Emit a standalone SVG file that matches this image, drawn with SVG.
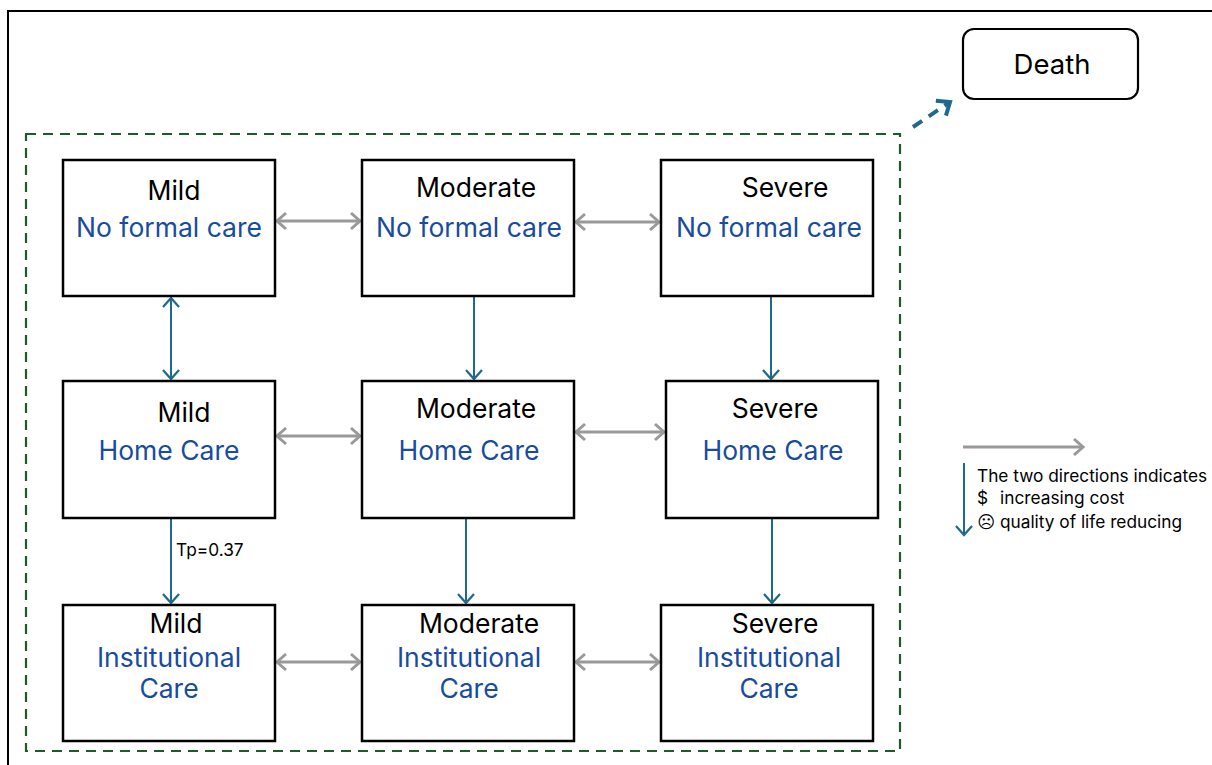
<svg xmlns="http://www.w3.org/2000/svg" width="1212" height="765" viewBox="0 0 1212 765">
<style>
.box{fill:#fff;stroke:#000;stroke-width:2.5}
.t{font-family:Inter,"Open Sans","Liberation Sans",sans-serif;font-size:26.5px;fill:#000;text-anchor:middle}
.b{fill:#184C9E}
.g{stroke:#999;stroke-width:3;fill:none}
.v{stroke:#1F6A8C;stroke-width:2;fill:none}
.lg{font-family:Inter,"Open Sans","Liberation Sans","DejaVu Sans",sans-serif;font-size:17.3px;fill:#000}
</style>
<defs>
<marker id="ga" markerUnits="userSpaceOnUse" markerWidth="16" markerHeight="20" refX="12" refY="10" orient="auto-start-reverse" viewBox="0 0 16 20">
<path d="M3,2 L12,10 L3,18" fill="none" stroke="#999" stroke-width="3"/>
</marker>
<marker id="va" markerUnits="userSpaceOnUse" markerWidth="16" markerHeight="20" refX="12" refY="10" orient="auto-start-reverse" viewBox="0 0 16 20">
<path d="M3,2 L12,10 L3,18" fill="none" stroke="#1F6A8C" stroke-width="2.2"/>
</marker>
<marker id="da" markerUnits="userSpaceOnUse" markerWidth="20" markerHeight="24" refX="14" refY="12" orient="auto" viewBox="0 0 20 24">
<path d="M3,3 L14,12 L3,21" fill="none" stroke="#1F6A8C" stroke-width="4"/>
</marker>
</defs>
<rect x="8" y="11" width="1220" height="770" fill="#fff" stroke="#000" stroke-width="2"/>
<rect x="26" y="134" width="874" height="617" fill="none" stroke="#1E5B2A" stroke-width="2.2" stroke-dasharray="10 7"/>

<g id="connectors">
<line class="g" x1="277" y1="221" x2="360" y2="221" marker-start="url(#ga)" marker-end="url(#ga)"/>
<line class="g" x1="576" y1="222" x2="659" y2="222" marker-start="url(#ga)" marker-end="url(#ga)"/>
<line class="g" x1="277" y1="436" x2="360" y2="436" marker-start="url(#ga)" marker-end="url(#ga)"/>
<line class="g" x1="576" y1="432" x2="664" y2="432" marker-start="url(#ga)" marker-end="url(#ga)"/>
<line class="g" x1="277" y1="662" x2="360" y2="662" marker-start="url(#ga)" marker-end="url(#ga)"/>
<line class="g" x1="576" y1="662" x2="659" y2="662" marker-start="url(#ga)" marker-end="url(#ga)"/>
<line class="v" x1="171" y1="298" x2="171" y2="379" marker-start="url(#va)" marker-end="url(#va)"/>
<line class="v" x1="474" y1="297" x2="474" y2="379" marker-end="url(#va)"/>
<line class="v" x1="771" y1="297" x2="771" y2="379" marker-end="url(#va)"/>
<line class="v" x1="171" y1="518" x2="171" y2="603" marker-end="url(#va)"/>
<line class="v" x1="466" y1="518" x2="466" y2="603" marker-end="url(#va)"/>
<line class="v" x1="772" y1="518" x2="772" y2="603" marker-end="url(#va)"/>
<line x1="913" y1="127" x2="950" y2="102" stroke="#1F6A8C" stroke-width="4" stroke-dasharray="11 8" marker-end="url(#da)"/>
<text x="176" y="556" class="lg" style="font-size:17.3px">Tp=0.37</text>
</g>

<g id="n-mild-nfc"><rect class="box" x="63" y="160" width="212" height="136"/><text class="t" x="174" y="200">Mild</text><text class="t b" x="169" y="237">No formal care</text></g>
<g id="n-mod-nfc"><rect class="box" x="362" y="160" width="212" height="136"/><text class="t" x="476" y="197">Moderate</text><text class="t b" x="469" y="237">No formal care</text></g>
<g id="n-sev-nfc"><rect class="box" x="661" y="160" width="212" height="136"/><text class="t" x="785" y="197">Severe</text><text class="t b" x="769" y="237">No formal care</text></g>

<g id="n-mild-hc"><rect class="box" x="63" y="381" width="212" height="137"/><text class="t" x="184" y="422">Mild</text><text class="t b" x="169" y="460">Home Care</text></g>
<g id="n-mod-hc"><rect class="box" x="362" y="381" width="212" height="137"/><text class="t" x="476" y="418">Moderate</text><text class="t b" x="469" y="460">Home Care</text></g>
<g id="n-sev-hc"><rect class="box" x="666" y="381" width="212" height="137"/><text class="t" x="775" y="418">Severe</text><text class="t b" x="773" y="460">Home Care</text></g>

<g id="n-mild-ic"><rect class="box" x="63" y="605" width="212" height="136"/><text class="t" x="176" y="633">Mild</text><text class="t b" x="169" y="667">Institutional</text><text class="t b" x="169" y="698">Care</text></g>
<g id="n-mod-ic"><rect class="box" x="362" y="605" width="212" height="136"/><text class="t" x="479" y="633">Moderate</text><text class="t b" x="469" y="667">Institutional</text><text class="t b" x="469" y="698">Care</text></g>
<g id="n-sev-ic"><rect class="box" x="661" y="605" width="212" height="136"/><text class="t" x="775" y="633">Severe</text><text class="t b" x="769" y="667">Institutional</text><text class="t b" x="769" y="698">Care</text></g>

<g id="n-death"><rect x="963" y="29" width="175" height="70" rx="11" fill="#fff" stroke="#000" stroke-width="2.2"/><text class="t" x="1052" y="74" style="font-size:27.5px">Death</text></g>

<g id="legend">
<line class="g" x1="963" y1="447" x2="1083" y2="447" stroke-width="2.5" marker-end="url(#ga)"/>
<line class="v" x1="964" y1="463" x2="964" y2="535" marker-end="url(#va)"/>
<text class="lg" x="977" y="482">The two directions indicates</text>
<text class="lg" x="977" y="504">$<tspan x="1000">increasing cost</tspan></text>
<text class="lg" x="977" y="528"><tspan style="font-family:'DejaVu Sans',sans-serif">☹</tspan> quality of life reducing</text>
</g>
</svg>
